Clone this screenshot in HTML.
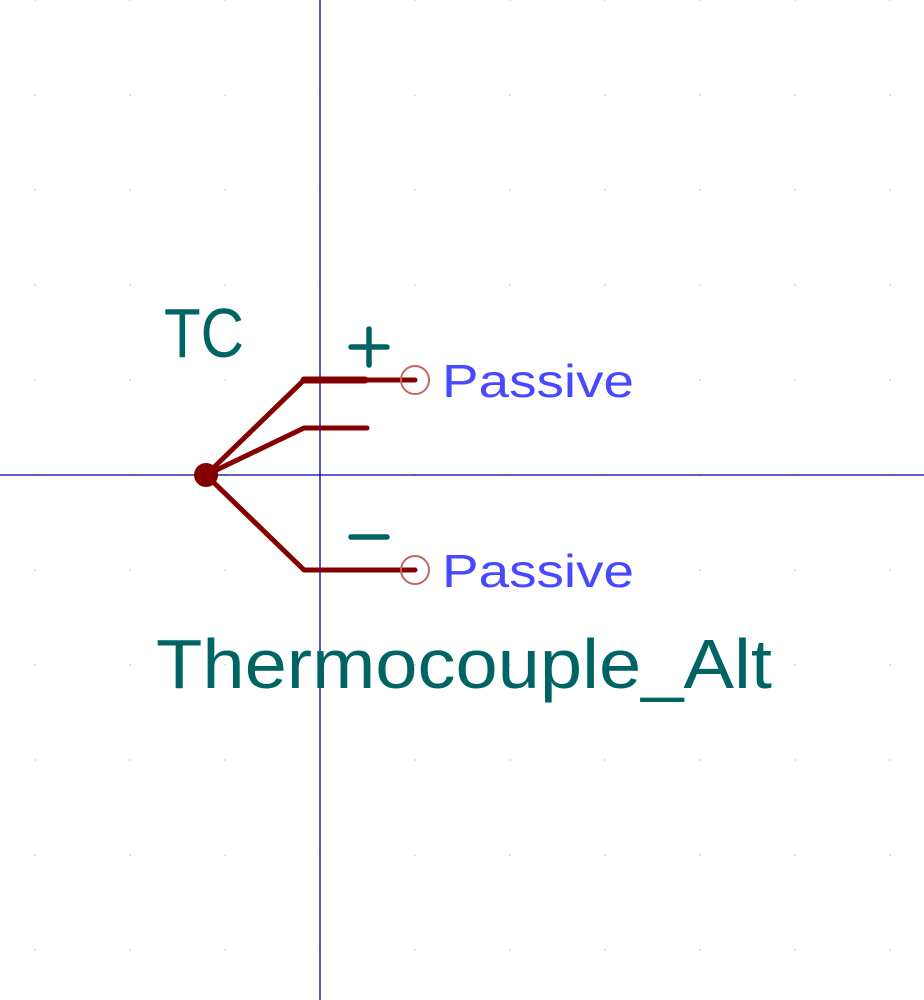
<!DOCTYPE html>
<html><head><meta charset="utf-8"><style>html,body{margin:0;padding:0;background:#fff}svg{display:block}</style></head>
<body>
<svg width="924" height="1000" viewBox="0 0 924 1000" xmlns="http://www.w3.org/2000/svg">
<g id="grid" fill="#e2e2e2"></g>
<line x1="320" y1="0" x2="320" y2="1000" stroke="#0000a0" stroke-width="1.3"/>
<line x1="0" y1="475" x2="924" y2="475" stroke="#0000a0" stroke-width="1.3"/>
<g stroke="#840000" stroke-width="5" fill="none" stroke-linecap="round" stroke-linejoin="round">
<polyline points="206,475 304,380 415,380"/>
<line x1="304" y1="380" x2="365" y2="380" stroke-width="7"/>
<polyline points="206,475 304,428 367,428"/>
<polyline points="206,475 304,570 415,570"/>
</g>
<circle cx="206" cy="475" r="12" fill="#840000"/>
<circle cx="415" cy="380" r="14" fill="none" stroke="#c86464" stroke-width="2"/>
<circle cx="415" cy="570" r="14" fill="none" stroke="#c86464" stroke-width="2"/>
<g stroke="#006464" stroke-width="5.5" stroke-linecap="round">
<line x1="351" y1="347" x2="387" y2="347"/>
<line x1="369" y1="329" x2="369" y2="365"/>
<line x1="351" y1="537" x2="387" y2="537"/>
</g>
<g font-family="Liberation Sans, sans-serif">
<text x="164" y="357" font-size="70" fill="#006464" textLength="80" lengthAdjust="spacingAndGlyphs">TC</text>
<text x="442" y="397" font-size="46" fill="#4848ff" textLength="192" lengthAdjust="spacingAndGlyphs">Passive</text>
<text x="442" y="587" font-size="46" fill="#4848ff" textLength="192" lengthAdjust="spacingAndGlyphs">Passive</text>
<text x="156" y="688" font-size="70" fill="#006464" textLength="616" lengthAdjust="spacingAndGlyphs">Thermocouple_Alt</text>
</g>
<script>
const g=document.getElementById('grid');
for(let x=35;x<924;x+=95)for(let y=0;y<1000;y+=95){
const c=document.createElementNS('http://www.w3.org/2000/svg','rect');
c.setAttribute('x',x-1);c.setAttribute('y',y-1);c.setAttribute('width',2);c.setAttribute('height',2);


g.appendChild(c);}
</script>
</svg>
</body></html>
